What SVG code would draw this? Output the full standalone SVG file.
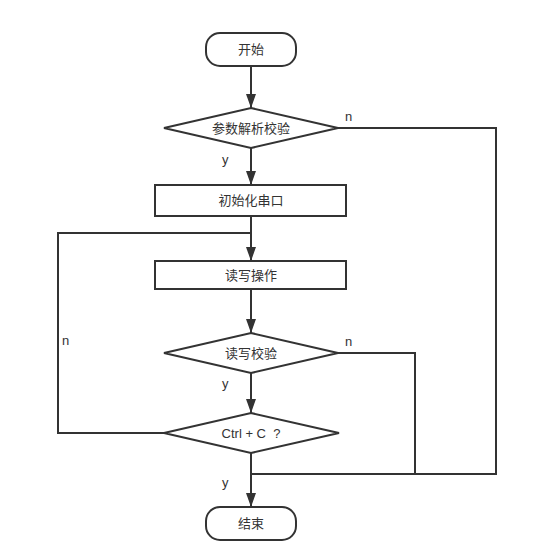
<svg xmlns="http://www.w3.org/2000/svg" width="537" height="549" viewBox="0 0 537 549">
<defs>
<style>
.s{fill:#fff;stroke:#333;stroke-width:2}
.l{fill:none;stroke:#333;stroke-width:2}
.t{font-family:"Liberation Sans","Noto Sans CJK SC",sans-serif;font-size:13px;fill:#333;text-anchor:middle;dominant-baseline:central;white-space:pre}
.lb{font-family:"Liberation Sans","Noto Sans CJK SC",sans-serif;font-size:13px;fill:#333}
</style>
<marker id="a" viewBox="0 0 14 10" refX="14" refY="5" markerWidth="7" markerHeight="5" orient="auto" markerUnits="strokeWidth">
<path d="M0,0 L14,5 L0,10 z" fill="#333"/>
</marker>
</defs>
<rect width="537" height="549" fill="#fff"/>
<g id="connectors">
<path class="l" d="M251,66 V108" marker-end="url(#a)"/>
<path class="l" d="M251,148 V185" marker-end="url(#a)"/>
<path class="l" d="M251,216 V261" marker-end="url(#a)"/>
<path class="l" d="M251,289 V333" marker-end="url(#a)"/>
<path class="l" d="M251,373 V413" marker-end="url(#a)"/>
<path class="l" d="M251,453 V507" marker-end="url(#a)"/>
<path class="l" d="M165,433 H58 V233 H251"/>
<path class="l" d="M338,353 H415 V474"/>
<path class="l" d="M338,128 H496 V474 H251"/>
<text class="lb" x="345" y="121">n</text>
<text class="lb" x="222" y="164">y</text>
<text class="lb" x="345" y="346">n</text>
<text class="lb" x="222" y="388">y</text>
<text class="lb" x="62" y="345">n</text>
<text class="lb" x="222" y="487">y</text>
</g>
<g id="start"><rect class="s" x="206" y="33" width="90" height="33" rx="14"/><text class="t" x="251" y="49.500">开始</text></g>
<g id="check-params"><path class="s" d="M251,108 L338,128 L251,148 L164,128 Z"/><text class="t" x="251" y="128">参数解析校验</text></g>
<g id="init-serial"><rect class="s" x="155" y="185" width="191" height="31"/><text class="t" x="251" y="200.500">初始化串口</text></g>
<g id="read-write"><rect class="s" x="155" y="261" width="191" height="28"/><text class="t" x="251" y="275">读写操作</text></g>
<g id="check-rw"><path class="s" d="M251,333 L338,353 L251,373 L164,353 Z"/><text class="t" x="251" y="353">读写校验</text></g>
<g id="ctrl-c"><path class="s" d="M251,413 L339,433 L251,453 L164,433 Z"/><text class="t" x="251" y="433" xml:space="preserve">Ctrl + C  ?</text></g>
<g id="end"><rect class="s" x="206" y="507" width="90" height="33" rx="14"/><text class="t" x="251" y="523.500">结束</text></g>
</svg>
